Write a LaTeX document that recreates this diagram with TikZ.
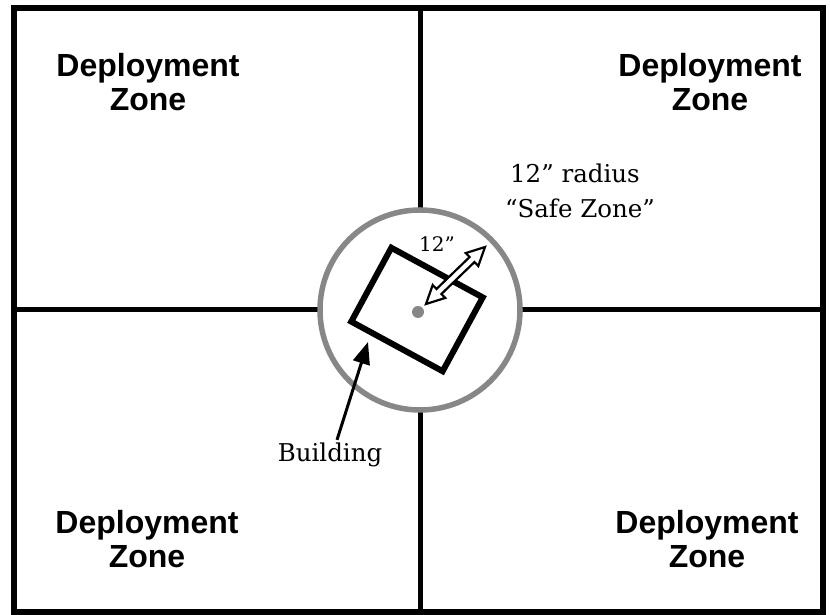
\documentclass[tikz,border=0pt]{standalone}
\usepackage{fontspec}
\usepackage{tikz}
\usetikzlibrary{arrows.meta}
\setmainfont{DejaVu Serif}
\newfontfamily\zonefont{Liberation Sans}
\definecolor{safegray}{RGB}{135,135,135}

\begin{document}
\begin{tikzpicture}[x=1pt, y=1pt,
    zone/.style={align=center, font=\zonefont\bfseries\fontsize{32}{34}\selectfont},
    note/.style={font=\fontsize{24.5}{30}\selectfont},
    wall/.style={line width=5pt}]
                \useasboundingbox (0,0) rectangle (830,615);

                % field and its four quarters
                \draw[wall] (420,607) -- (420,3);
                \draw[wall] (13.5,305) -- (822.5,305);
                \draw[line width=6pt] (13.5,3) rectangle (822.5,607);

                \node[zone] (zoneA) at (148,533) {Deployment\\Zone};
                \node[zone] (zoneB) at (710,533) {Deployment\\Zone};
                \node[zone] (zoneC) at (147,75.5) {Deployment\\Zone};
                \node[zone] (zoneD) at (707,75.5) {Deployment\\Zone};

                % safe zone round the building
                \node[circle, draw=safegray, fill=white, line width=5.5pt, minimum size=200pt, inner sep=0pt] (safe) at (420,305) {};
                \node[draw, line width=6pt, minimum width=104pt, minimum height=84pt, inner sep=0pt, rotate=-28.5] (building) at (417,305.5) {};
                \node[circle, fill=safegray, minimum size=12pt, inner sep=0pt] (centre) at (418,303) {};

                \coordinate (inner) at (426,311);
                \coordinate (wall) at (368,273);
                \begin{scope}[shift={(inner)}, rotate=44]
                    \draw[line width=2.2pt, fill=white, line join=miter] (0,0) -- (18,9) -- (18,3.5) -- (64,3.5) -- (64,9) -- (82,0) -- (64,-9) -- (64,-3.5) -- (18,-3.5) -- (18,-9) -- cycle;
                \end{scope}
                \node[font=\fontsize{20}{22}\selectfont] (len) at (437,371) {12”};

                \node[note, anchor=base] (radius) at (575,432) {12” radius};
                \node[note, anchor=base] (safezone) at (580,397) {“Safe Zone”};
                \node[note, anchor=base] (bldg) at (330,153) {Building};

                \draw[line width=3pt, -{Triangle[length=22pt, width=17pt]}] ([xshift=7pt]bldg.north) -- (wall);
            \end{tikzpicture}
\end{document}
